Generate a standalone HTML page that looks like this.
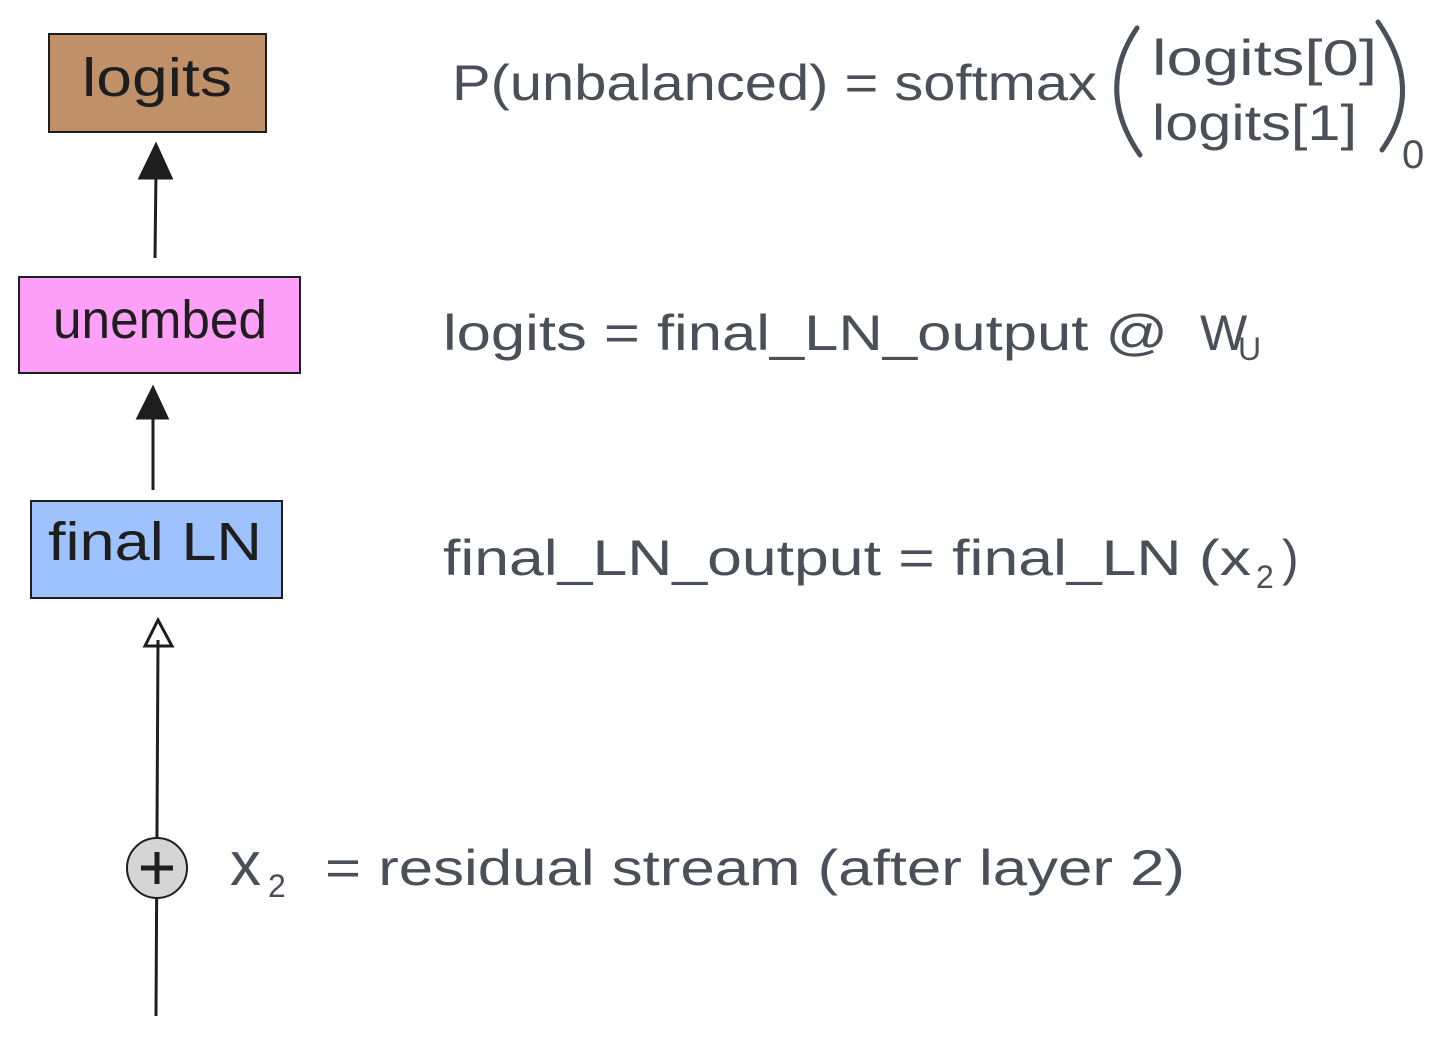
<!DOCTYPE html>
<html><head><meta charset="utf-8"><style>
html,body{margin:0;padding:0;background:#fff;}
svg{display:block;}
text{font-family:"Liberation Sans",sans-serif;}
</style></head><body>
<svg width="1456" height="1037" viewBox="0 0 1456 1037" xmlns="http://www.w3.org/2000/svg">
<rect x="49" y="34" width="217" height="98" fill="#c09169" stroke="#1e1e1e" stroke-width="2"/>
<text x="157" y="96" font-size="54" text-anchor="middle" fill="#1e1e1e" textLength="150" lengthAdjust="spacingAndGlyphs">logits</text>
<rect x="19" y="277" width="281" height="96" fill="#ffa0f8" stroke="#1e1e1e" stroke-width="2"/>
<text x="160" y="338" font-size="54" text-anchor="middle" fill="#1e1e1e" textLength="214" lengthAdjust="spacingAndGlyphs">unembed</text>
<rect x="31" y="501" width="251" height="97" fill="#9ec2fd" stroke="#1e1e1e" stroke-width="2"/>
<text x="155" y="560" font-size="54" text-anchor="middle" fill="#1e1e1e" textLength="214" lengthAdjust="spacingAndGlyphs">final LN</text>
<g stroke="#1e1e1e" stroke-width="3" fill="#1e1e1e">
<line x1="155" y1="258" x2="156" y2="170"/>
<polygon points="140,178 156,145 171,178"/>
<line x1="153" y1="490" x2="153" y2="410"/>
<polygon points="138,418 153,388 167,418"/>
<line x1="156" y1="1016" x2="158" y2="640"/>
<polygon points="145,646 158,620 172,646" fill="none"/>
</g>
<circle cx="157" cy="868" r="30" fill="#d5d5d5" stroke="#1e1e1e" stroke-width="2"/>
<line x1="141" y1="868" x2="173" y2="868" stroke="#1e1e1e" stroke-width="5"/>
<line x1="157" y1="852" x2="157" y2="884" stroke="#1e1e1e" stroke-width="5"/>
<g fill="#495057" font-size="50">
<text x="452" y="100" textLength="645" lengthAdjust="spacingAndGlyphs">P(unbalanced) = softmax</text>
<text x="1152" y="75" textLength="225" lengthAdjust="spacingAndGlyphs">logits[0]</text>
<text x="1152" y="140" textLength="205" lengthAdjust="spacingAndGlyphs">logits[1]</text>
<text x="1402" y="168" font-size="40">0</text>
<text x="443" y="350" textLength="725" lengthAdjust="spacingAndGlyphs">logits = final_LN_output @</text>
<text x="1200" y="350">W</text>
<text x="1238" y="360" font-size="32">U</text>
<text x="443" y="575" textLength="808" lengthAdjust="spacingAndGlyphs">final_LN_output = final_LN (x</text>
<text x="1256" y="588" font-size="32">2</text>
<text x="1282" y="575">)</text>
<text x="230" y="885" font-size="62">x</text>
<text x="268" y="897" font-size="32">2</text>
<text x="325" y="885" textLength="860" lengthAdjust="spacingAndGlyphs">= residual stream (after layer 2)</text>
</g>
<path d="M1137,28 Q1095,90 1140,155" stroke="#495057" stroke-width="5" fill="none" stroke-linecap="round"/>
<path d="M1378,22 Q1425,90 1382,150" stroke="#495057" stroke-width="5" fill="none" stroke-linecap="round"/>
</svg>
</body></html>
